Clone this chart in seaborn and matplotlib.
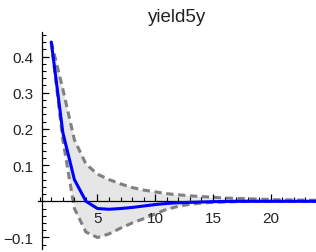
import numpy as np
import pandas as pd
import matplotlib
matplotlib.use("Agg")
import matplotlib.pyplot as plt
import seaborn as sns
from matplotlib.ticker import MultipleLocator, FixedLocator

sns.set_style("ticks")
plt.rcParams['font.family'] = ['Liberation Sans', 'DejaVu Sans']

horizon = list(range(1, 25))
response = [0.44, 0.19, 0.06, 0.0, -0.02, -0.022, -0.02, -0.017, -0.013, -0.009,
            -0.006, -0.004, -0.003, -0.002, -0.001, -0.0005, 0.0, 0.0, 0.0, 0.0,
            0.0, 0.0, 0.0, 0.0]
upper = [0.44, 0.31, 0.17, 0.103, 0.075, 0.06, 0.048, 0.038, 0.031, 0.026,
         0.021, 0.018, 0.015, 0.013, 0.011, 0.009, 0.008, 0.007, 0.006, 0.005,
         0.004, 0.004, 0.003, 0.003]
lower = [0.44, 0.17, -0.02, -0.085, -0.1, -0.09, -0.074, -0.06, -0.048, -0.035,
         -0.022, -0.014, -0.008, -0.005, -0.003, -0.002, -0.001, 0.0, 0.0, 0.0,
         0.0, 0.0, 0.0, 0.0]
title = "yield5y"
xticks = [5, 10, 15, 20]
yticks = [-0.1, 0.1, 0.2, 0.3, 0.4]

df = pd.DataFrame({"h": horizon, "resp": response, "up": upper, "lo": lower})

W, H = 316, 253
fig = plt.figure(figsize=(W / 100, H / 100), dpi=100)
ax = fig.add_axes([38 / W, 3 / H, 1 - 38 / W, (250 - 33) / H])
ax.set_axisbelow(False)

ax.fill_between(df["h"], df["lo"], df["up"], color="#e6e6e6", lw=0, zorder=1)
sns.lineplot(data=df, x="h", y="up", ax=ax, color="#808080", lw=2.2,
             linestyle=(0, (2.4, 1.5)), zorder=2)
sns.lineplot(data=df, x="h", y="lo", ax=ax, color="#808080", lw=2.2,
             linestyle=(0, (2.4, 1.5)), zorder=2)
sns.lineplot(data=df, x="h", y="resp", ax=ax, color="#0000ff", lw=2.2, zorder=4)

ax.set_xlim(-0.15, 23.92)
ax.set_ylim(-0.1318, 0.4677)

for s in ["top", "right"]:
    ax.spines[s].set_visible(False)
ax.spines["left"].set_position(("data", 0.2))
ax.spines["bottom"].set_position(("data", 0.0))
for s in ["left", "bottom"]:
    ax.spines[s].set_linewidth(0.9)
    ax.spines[s].set_color("black")
    ax.spines[s].set_zorder(3)

ax.xaxis.set_major_locator(FixedLocator(xticks))
ax.xaxis.set_minor_locator(MultipleLocator(1))
ax.yaxis.set_major_locator(FixedLocator(yticks))
ax.yaxis.set_minor_locator(MultipleLocator(0.02))
ax.set_xticklabels([str(v) for v in xticks])
ax.set_yticklabels(["\u22120.1", "0.1", "0.2", "0.3", "0.4"])

ax.tick_params(axis="both", which="major", direction="in", length=5, width=0.9,
               labelsize=11, colors="black", labelcolor="#222222")
ax.tick_params(axis="both", which="minor", direction="in", length=3, width=0.8,
               colors="black")
ax.tick_params(axis="x", which="major", pad=7)
ax.tick_params(axis="y", which="major", pad=6)

ax.set_xlabel("")
ax.set_ylabel("")
ax.set_facecolor("white")
fig.text((38 + W) / 2 / W, 1 - 18 / H, title, ha="center", va="center",
         fontsize=13.5, color="#222222")

fig.savefig("out.png", dpi=100)
